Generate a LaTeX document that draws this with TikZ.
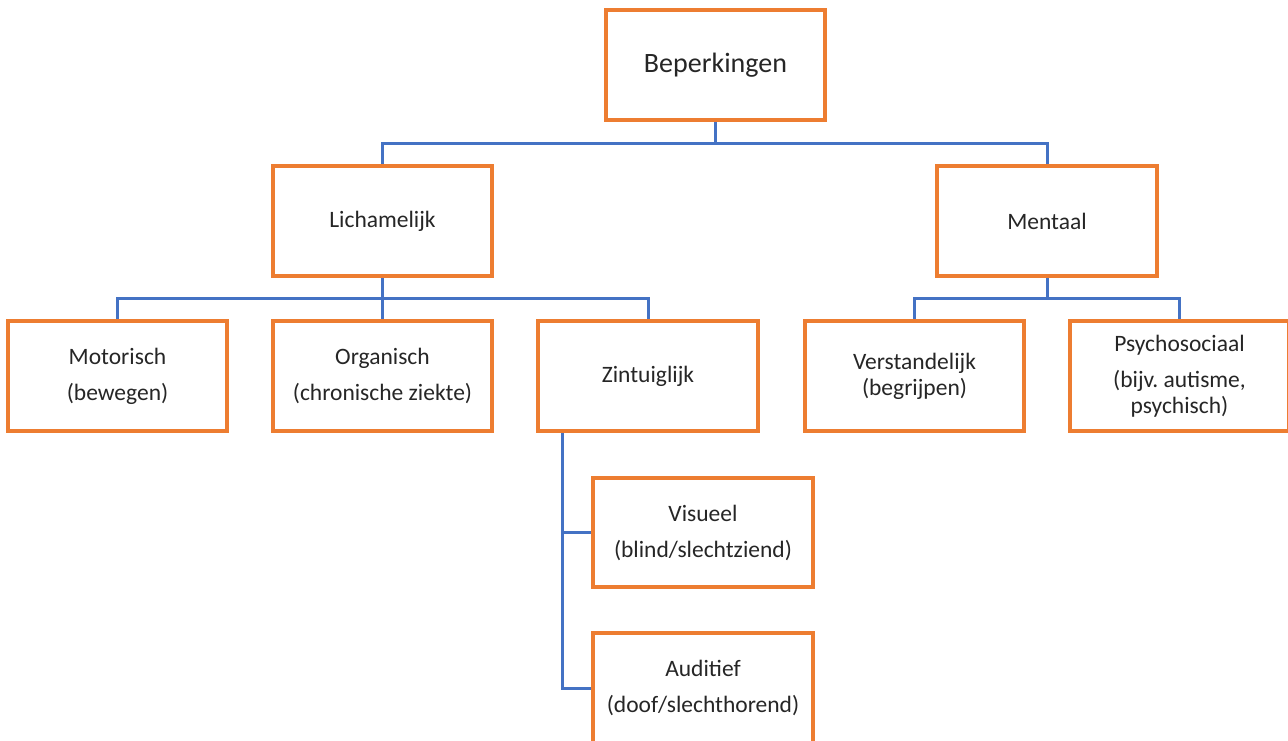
\documentclass[tikz,border=0pt]{standalone}
\usepackage{fontspec}
\setmainfont{Carlito}
\frenchspacing
\definecolor{boxorange}{HTML}{ED7D31}
\definecolor{lineblue}{HTML}{4472C4}
\definecolor{txtgray}{HTML}{262626}
\begin{document}
\begin{tikzpicture}[x=1pt,y=-1pt,
  box/.style={draw=boxorange,line width=2.6pt,fill=white,minimum width=218pt,minimum height=108pt,inner sep=0pt,align=center,text=txtgray,font=\fontsize{23.5}{26}\selectfont},
  topbox/.style={box,font=\fontsize{28}{32}\selectfont},
  conn/.style={draw=lineblue,line width=3pt}]
\useasboundingbox (0,0) rectangle (1288,740);
\clip (0,0) rectangle (1288,740);
\fill[white] (0,0) rectangle (1288,740);
% nodes
\node[topbox] (bep) at (715.5,65) {Beperkingen};
\node[box] (lich) at (382.5,221) {Lichamelijk};
\node[box] (ment) at (1047,221) {Mentaal};
\node[box] (mot) at (117.5,376) {Motorisch\\[10pt](bewegen)};
\node[box] (org) at (382.5,376) {Organisch\\[10pt](chronische ziekte)};
\node[box] (zin) at (648,376) {Zintuiglijk};
\node[box] (ver) at (914.5,376) {Verstandelijk\\(begrijpen)};
\node[box] (psy) at (1179.5,376) {Psychosociaal\\[10pt](bijv.~autisme,\\psychisch)};
\node[box] (vis) at (703,532.5) {Visueel\\[10pt](blind/slechtziend)};
\node[box] (aud) at (703,688) {Auditief\\[10pt](doof/slechthorend)};
% connectors
\coordinate (j1) at (715.5,143);
\coordinate (j2) at (382.5,298);
\coordinate (j3) at (1047,298);
\draw[conn] (bep.south) -- (j1);
\draw[conn] (lich.north) |- (j1) -| (ment.north);
\draw[conn] (lich.south) -- (j2);
\draw[conn] (mot.north) |- (j2) -| (zin.north);
\draw[conn] (j2) -- (org.north);
\draw[conn] (ment.south) -- (j3);
\draw[conn] (ver.north) |- (j3) -| (psy.north);
\coordinate (zx) at (562,0);
\draw[conn] (zin.south -| zx) |- (aud.west);
\draw[conn] (vis.west) -- (vis.west -| zx);
% redraw box borders on top of connector ends
\foreach \n in {bep,lich,ment,mot,org,zin,ver,psy,vis,aud}{\draw[draw=boxorange,line width=2.6pt] (\n.south west) rectangle (\n.north east);}
\end{tikzpicture}
\end{document}
